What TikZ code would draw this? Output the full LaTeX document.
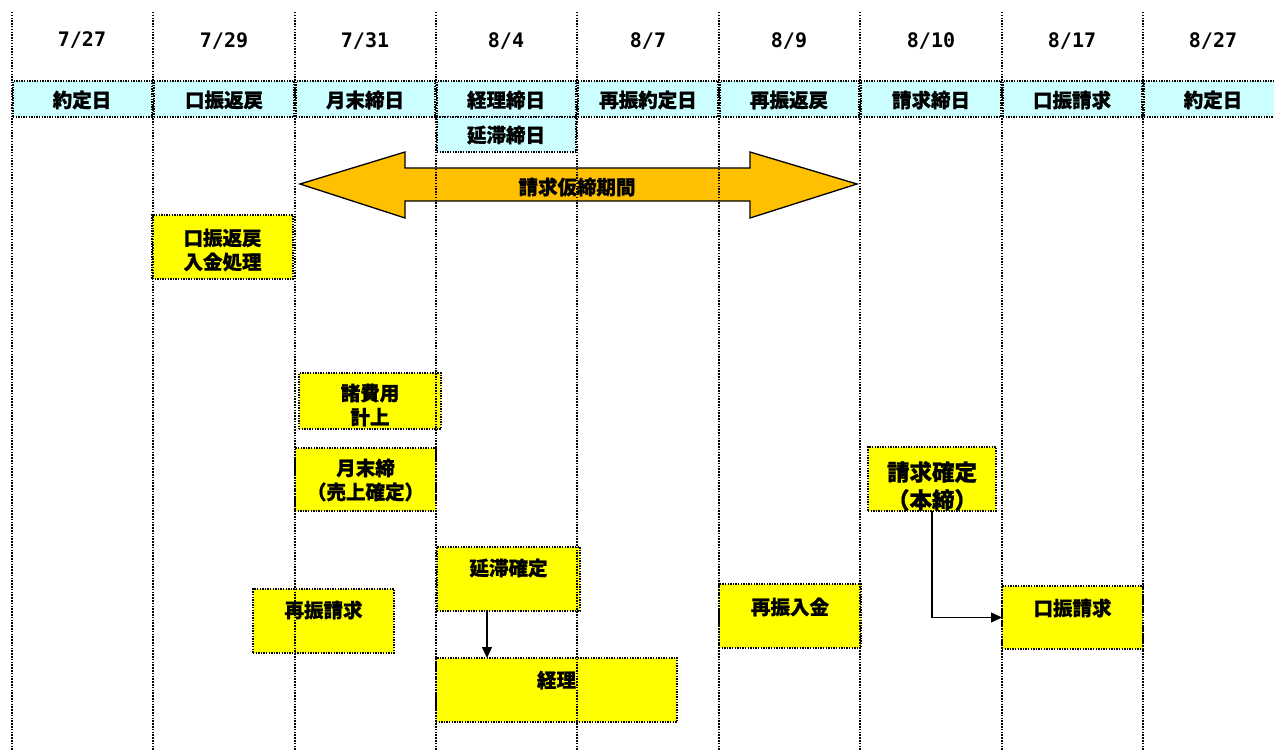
\documentclass[tikz,border=0pt]{standalone}
\usepackage{fontspec}
\setmainfont{Liberation Sans}
\newfontfamily\jp{Noto Sans CJK JP}[BoldFeatures={FakeBold=0.8}]
\newfontfamily\datefont{DejaVu Sans Mono}
\usetikzlibrary{fit,arrows.meta}
\definecolor{hdr}{HTML}{CCFFFF}
\definecolor{yel}{HTML}{FFFF00}
\definecolor{org}{HTML}{FFC000}
\begin{document}
\begin{tikzpicture}[x=1pt,y=-1pt,
  dotline/.style={line width=1.5pt, dash pattern=on 1.5pt off 1.3pt},
  hbox/.style={draw, fill=hdr, line width=1.5pt, dash pattern=on 1.4pt off 1.2pt, inner sep=0pt, outer sep=0pt},
  ybox/.style={draw, fill=yel, line width=1.5pt, dash pattern=on 1.4pt off 1.2pt, inner sep=0pt, outer sep=0pt},
  jtxt/.style={font=\jp\bfseries\fontsize{19.5}{24}\selectfont, align=center, inner sep=0pt},
  jbig/.style={font=\jp\bfseries\fontsize{22.5}{28}\selectfont, align=center, inner sep=0pt},
  dtxt/.style={font=\datefont\bfseries\fontsize{20}{20}\selectfont, inner sep=0pt},
  arr/.style={line width=1.3pt, -{Triangle[length=11pt,width=10pt]}},
]
\clip (0,0) rectangle (1274,751);
\fill[white] (0,0) rectangle (1274,751);

% dates
\node[dtxt] (d1) at (82,40) {7/27};
\node[dtxt] (d2) at (224,41) {7/29};
\node[dtxt] (d3) at (365,41) {7/31};
\node[dtxt] (d4) at (506,41) {8/4};
\node[dtxt] (d5) at (648,41) {8/7};
\node[dtxt] (d6) at (789,41) {8/9};
\node[dtxt] (d7) at (931,41) {8/10};
\node[dtxt] (d8) at (1072,41) {8/17};
\node[dtxt] (d9) at (1213,41) {8/27};

% header boxes
\node[hbox, fit={(13,81) (152,117)}] (h1) {};
\node[hbox, fit={(154,81) (294,117)}] (h2) {};
\node[hbox, fit={(296,81) (435,117)}] (h3) {};
\node[hbox, fit={(437,81) (576,117)}] (h4) {};
\node[hbox, fit={(578,81) (718,117)}] (h5) {};
\node[hbox, fit={(720,81) (859,117)}] (h6) {};
\node[hbox, fit={(861,81) (1001,117)}] (h7) {};
\node[hbox, fit={(1003,81) (1142,117)}] (h8) {};
\node[hbox, fit={(1144,81) (1290,117)}] (h9) {};
\node[hbox, fit={(437,117) (576,152)}] (h10) {};
\node[jtxt] at (82,100) {約定日};
\node[jtxt] at (224,100) {口振返戻};
\node[jtxt] at (365,100) {月末締日};
\node[jtxt] at (506,100) {経理締日};
\node[jtxt] at (648,100) {再振約定日};
\node[jtxt] at (789,100) {再振返戻};
\node[jtxt] at (931,100) {請求締日};
\node[jtxt] at (1072,100) {口振請求};
\node[jtxt] at (1213,100) {約定日};
\node[jtxt] at (506,135) {延滞締日};

% big double arrow
\draw[fill=org, line width=1.3pt, line join=miter]
  (300,184) -- (405,152) -- (405,168) -- (750,168) -- (750,152) -- (857,184)
  -- (750,218) -- (750,201) -- (405,201) -- (405,218) -- cycle;
\node[jtxt] (period) at (577,187) {請求仮締期間};

% yellow boxes
\node[ybox, fit={(152,215) (293,279)}] (ybA) {};
\node[ybox, fit={(299,373) (441,429)}] (ybB) {};
\node[ybox, fit={(295,448) (436,511)}] (ybC) {};
\node[ybox, fit={(868,447) (996,511)}] (ybD) {};
\node[ybox, fit={(437,547) (580,611)}] (ybE) {};
\node[ybox, fit={(253,589) (394,653)}] (ybF) {};
\node[ybox, fit={(436,658) (677,722)}] (ybG) {};
\node[ybox, fit={(719,584) (861,648)}] (ybH) {};
\node[ybox, fit={(1002,586) (1143,649)}] (ybI) {};

\node[jtxt] at (222.5,250) {口振返戻\\入金処理};
\node[jtxt] at (370,405) {諸費用\\計上};
\node[jtxt] at (365.5,480) {月末締\\（売上確定）};
\node[jbig] at (932,486) {請求確定\\（本締）};
\node[jtxt] at (508.5,568) {延滞確定};
\node[jtxt] at (323.5,610) {再振請求};
\node[jtxt] at (556.5,680) {経理};
\node[jtxt] at (790,607) {再振入金};
\node[jtxt] at (1072.5,608) {口振請求};

% connectors
\draw[arr] ([xshift=-21.5pt]ybE.south) -- ([xshift=-21.5pt]ybE.south |- ybG.north);
\draw[arr] (ybD.south) |- (ybI.west);

% vertical dotted lines
\foreach \x in {12,153,295,436,577,719,860,1002,1143}
  \draw[dotline] (\x,12) -- (\x,751);
\end{tikzpicture}
\end{document}
